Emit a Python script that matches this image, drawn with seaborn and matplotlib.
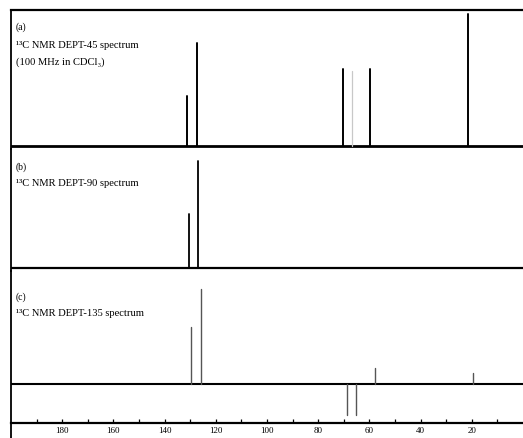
import pandas as pd
import matplotlib.pyplot as plt
import seaborn as sns

# peak positions (ppm) and relative intensities
ppm_a = [131.2, 127.3, 70.2, 59.7, 21.4]
int_a = [38, 78, 58, 58, 100]
ghost_ppm_a = [66.7]          # faint grey line in panel (a)
ghost_int_a = [57]

ppm_b = [130.4, 126.9]
int_b = [41, 81]

ppm_c = [129.6, 125.7, 68.7, 65.2, 57.7, 19.5]
int_c = [43, 72, -23.5, -23.5, 12, 8]

major_ticks = [180, 160, 140, 120, 100, 80, 60, 40, 20]
minor_ticks = [190, 170, 150, 130, 110, 90, 70, 50, 30, 10]

panel_tags = ["(a)", "(b)", "(c)"]
panel_titles = ["\u00b9\u00b3C NMR DEPT-45 spectrum",
                "\u00b9\u00b3C NMR DEPT-90 spectrum",
                "\u00b9\u00b3C NMR DEPT-135 spectrum"]
sub_title_a = "(100 MHz in CDCl\u2083)"


def sticks(ppm, inten):
    rows = []
    for i, (p, h) in enumerate(zip(ppm, inten)):
        rows.append({"peak": i, "ppm": p, "intensity": 0})
        rows.append({"peak": i, "ppm": p, "intensity": h})
    return pd.DataFrame(rows)


sns.set_theme(style="white")
plt.rcParams['font.family'] = ['Liberation Serif', 'DejaVu Serif']

W, H = 523, 439
fig = plt.figure(figsize=(W / 100, H / 100), dpi=100)


def add_panel(top, bottom):
    return fig.add_axes([11 / W, 1 - bottom / H, (W - 11) / W, (bottom - top) / H])


# pixel rows of each panel, scale 1.32 px per intensity unit
ax_a = add_panel(11, 150)
ax_b = add_panel(150, 272)
ax_c = add_panel(272, 424)
ax_a.set_ylim(-2.3, 103)
ax_b.set_ylim(-2.3, 90.2)
ax_c.set_ylim(-29.5, 85.6)

for ax in (ax_a, ax_b, ax_c):
    ax.set_xlim(200, 0)
    ax.set_facecolor('none')
    for s in ax.spines.values():
        s.set_visible(False)
    ax.spines['left'].set_visible(True)
    ax.spines['left'].set_color('black')
    ax.spines['left'].set_linewidth(1.3)
    ax.set_yticks([])

ax_a.spines['top'].set_visible(True)
ax_a.spines['top'].set_color('black')
ax_a.spines['top'].set_linewidth(1.6)

# panel (a)
ax_a.axhline(0, color='black', lw=2.0)
sns.lineplot(data=sticks(ghost_ppm_a, ghost_int_a), x='ppm', y='intensity', units='peak',
             estimator=None, ax=ax_a, color='#c8c8c8', lw=0.9)
sns.lineplot(data=sticks(ppm_a, int_a), x='ppm', y='intensity', units='peak',
             estimator=None, ax=ax_a, color='black', lw=1.4)

# panel (b)
ax_b.axhline(0, color='black', lw=1.6)
sns.lineplot(data=sticks(ppm_b, int_b), x='ppm', y='intensity', units='peak',
             estimator=None, ax=ax_b, color='black', lw=1.3)

# panel (c)
ax_c.axhline(0, color='black', lw=1.5)
sns.lineplot(data=sticks(ppm_c, int_c), x='ppm', y='intensity', units='peak',
             estimator=None, ax=ax_c, color='#555555', lw=1.0)

for ax in (ax_a, ax_b):
    ax.set_xticks([])
    ax.set_xlabel('')
    ax.set_ylabel('')

ax_c.spines['bottom'].set_visible(True)
ax_c.spines['bottom'].set_color('black')
ax_c.spines['bottom'].set_linewidth(1.6)
ax_c.set_xticks(major_ticks)
ax_c.set_xticks(minor_ticks, minor=True)
ax_c.set_xticklabels([str(t) for t in major_ticks])
ax_c.tick_params(axis='x', which='both', direction='in', length=3, width=0.9,
                 colors='black', labelsize=6.5, pad=2, bottom=True)
ax_c.set_xlabel('')
ax_c.set_ylabel('')
ax_c.plot([0, 0], [0, -0.12], transform=ax_c.transAxes, color='black', lw=1.3, clip_on=False)

# panel labels
tag_y = [27, 167, 297]
title_y = [46, 184, 314]
for tag, title, ty, hy in zip(panel_tags, panel_titles, tag_y, title_y):
    fig.text(16 / W, 1 - ty / H, tag, fontsize=7, va='center', ha='left', color='black')
    fig.text(16 / W, 1 - hy / H, title, fontsize=7.6, va='center', ha='left', color='black')
fig.text(16 / W, 1 - 62 / H, sub_title_a, fontsize=7.6, va='center', ha='left', color='black')

fig.savefig('out.png', dpi=100)
